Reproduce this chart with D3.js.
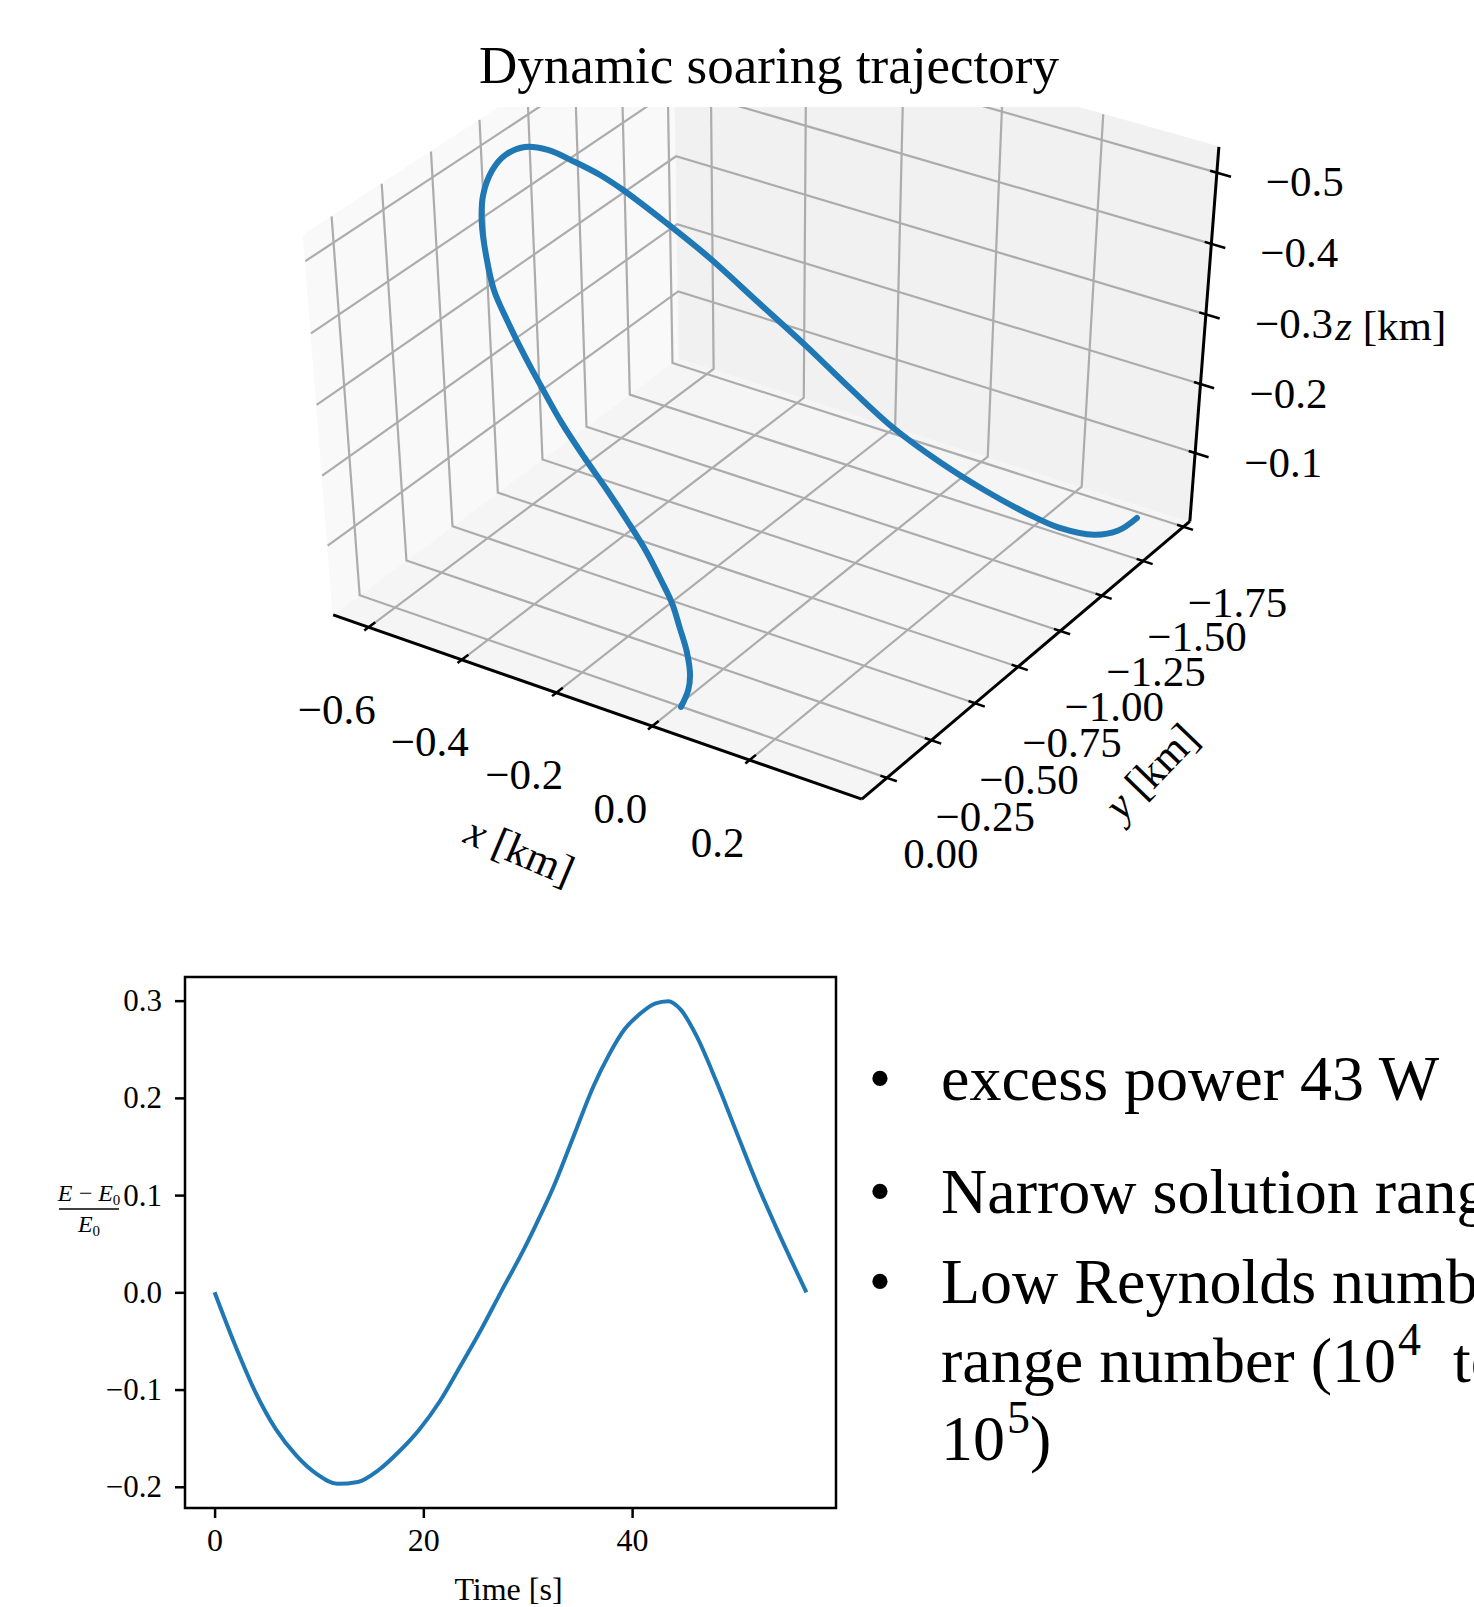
<!DOCTYPE html>
<html>
<head>
<meta charset="utf-8">
<script src="https://cdn.jsdelivr.net/npm/d3@7"></script>
<style>
  body { margin: 0; background: #fff; }
  svg text { font-family: "Liberation Serif", "Times New Roman", serif; fill: #000; }
</style>
</head>
<body>
<svg id="fig" width="1474" height="1607"></svg>
<script>
// trajectory in km (x, y, z with z pointing down)
let trajX = [0.007, 0.001, -0.009, -0.030, -0.058, -0.086, -0.119, -0.152, -0.197, -0.244, -0.294, -0.344, -0.390, -0.435, -0.481, -0.521, -0.557, -0.589, -0.611, -0.623, -0.623, -0.611, -0.586, -0.549, -0.513, -0.478, -0.409, -0.335, -0.247, -0.158, -0.079, -0.002, 0.079, 0.150, 0.221, 0.264, 0.308, 0.332, 0.341];
let trajY = [0.002, -0.054, -0.091, -0.131, -0.166, -0.199, -0.221, -0.240, -0.256, -0.269, -0.280, -0.295, -0.317, -0.342, -0.374, -0.407, -0.462, -0.525, -0.591, -0.672, -0.741, -0.814, -0.870, -0.917, -0.956, -0.985, -1.029, -1.072, -1.108, -1.144, -1.174, -1.206, -1.265, -1.329, -1.407, -1.466, -1.551, -1.629, -1.717];
let trajZ = [0.000, -0.011, -0.022, -0.041, -0.063, -0.085, -0.109, -0.133, -0.164, -0.196, -0.229, -0.263, -0.296, -0.328, -0.361, -0.391, -0.422, -0.450, -0.472, -0.490, -0.499, -0.500, -0.491, -0.473, -0.455, -0.436, -0.397, -0.354, -0.302, -0.250, -0.202, -0.157, -0.112, -0.075, -0.039, -0.018, -0.001, 0.003, 0.000];

// ticks of the 3d panel
let xTicks3 = [-0.6, -0.4, -0.2, 0.0, 0.2];
let yTicks3 = [0.00, -0.25, -0.50, -0.75, -1.00, -1.25, -1.50, -1.75];
let zTicks3 = [-0.1, -0.2, -0.3, -0.4, -0.5];

// energy history
let timeS  = [0, 1.95, 3.92, 5.88, 7.84, 9.8, 11.77, 13.73, 15.69, 17.65, 19.62, 21.58, 23.54, 25.5, 27.47, 29.43, 30.9, 32.37, 34.34, 36.3, 37.77, 39.24, 40.71, 42.18, 43.46, 44.64, 46.11, 48.07, 50.03, 52.0, 53.96, 56.7];
let energy = [0, -0.054, -0.103, -0.141, -0.168, -0.187, -0.197, -0.195, -0.183, -0.164, -0.141, -0.112, -0.076, -0.039, 0.001, 0.040, 0.072, 0.106, 0.159, 0.212, 0.244, 0.270, 0.286, 0.297, 0.2995, 0.291, 0.265, 0.217, 0.164, 0.111, 0.063, 0];
let timeTicks = [0, 20, 40];
let energyTicks = [-0.2, -0.1, 0.0, 0.1, 0.2, 0.3];

let svg = d3.select("#fig");
svg.append("rect").attr("width", 1474).attr("height", 1607).attr("fill", "#fff");

// ---------- 3d projection ----------
let xS = d3.scaleLinear().domain([-0.677, 0.427]).range([-0.5, 0.5]);
let yS = d3.scaleLinear().domain([0.14, -1.79]).range([-0.5, 0.5]);
let zS = d3.scaleLinear().domain([0, -0.536]).range([-0.345, 0.345]);
let view = {elev: 29.5, azim: -57, dist: 12, k: 628, cx: 766, cy: 381.7, keystone: 0.039};

function project(x, y, z) {
    let U = xS(x), V = yS(y), W = zS(z);
    let ph = view.azim * Math.PI / 180, th = view.elev * Math.PI / 180;
    let X = -Math.sin(ph) * U + Math.cos(ph) * V;
    let Y = -Math.sin(th) * Math.cos(ph) * U - Math.sin(th) * Math.sin(ph) * V + Math.cos(th) * W;
    let dep = Math.cos(th) * Math.cos(ph) * U + Math.cos(th) * Math.sin(ph) * V + Math.sin(th) * W;
    let s = view.dist / (view.dist - dep);
    let zr = zS.range();
    let h = (W - zr[0]) / (zr[1] - zr[0]);
    return [view.cx + view.k * s * X * (1 + view.keystone * h), view.cy - view.k * s * Y];
}

let x0 = xS.domain()[0], x1 = xS.domain()[1];
let y0 = yS.domain()[0], y1 = yS.domain()[1];
let z0 = zS.domain()[0], z1 = zS.domain()[1];

svg.append("clipPath").attr("id", "clip3d")
    .append("rect").attr("x", 0).attr("y", 107).attr("width", 1474).attr("height", 850);

let g3 = svg.append("g").attr("clip-path", "url(#clip3d)");

let panes = [
    {c: "#f5f5f5", p: [[x0,y0,z0],[x1,y0,z0],[x1,y1,z0],[x0,y1,z0]]},
    {c: "#f9f9f9", p: [[x0,y0,z0],[x0,y1,z0],[x0,y1,z1],[x0,y0,z1]]},
    {c: "#f1f1f1", p: [[x0,y1,z0],[x1,y1,z0],[x1,y1,z1],[x0,y1,z1]]}
];
g3.selectAll(".pane").data(panes).enter().append("path")
    .attr("d", d => "M" + d.p.map(q => project(q[0], q[1], q[2]).join(",")).join("L") + "Z")
    .attr("fill", d => d.c).attr("stroke", d => d.c);

//gridlines run over the floor and up the back walls
let grid = [];
xTicks3.forEach(t => grid.push([[t,y0,z0],[t,y1,z0],[t,y1,z1]]));
yTicks3.forEach(t => grid.push([[x1,t,z0],[x0,t,z0],[x0,t,z1]]));
zTicks3.forEach(t => grid.push([[x0,y0,t],[x0,y1,t],[x1,y1,t]]));
g3.selectAll(".grid").data(grid).enter().append("path")
    .attr("d", d => "M" + d.map(q => project(q[0], q[1], q[2]).join(",")).join("L"))
    .attr("fill", "none").attr("stroke", "#acacac").attr("stroke-width", 2.2);

// axis lines
let axes3 = [[[x0,y0,z0],[x1,y0,z0]], [[x1,y0,z0],[x1,y1,z0]], [[x1,y1,z0],[x1,y1,z1]]];
svg.selectAll(".ax3").data(axes3).enter().append("path")
    .attr("d", d => "M" + d.map(q => project(q[0], q[1], q[2]).join(",")).join("L"))
    .attr("fill", "none").attr("stroke", "#000").attr("stroke-width", 3);

// ticks
function seg(a, b) { return "M" + project(a[0], a[1], a[2]).join(",") + "L" + project(b[0], b[1], b[2]).join(","); }
let dx = x1 - x0, dy = y1 - y0;
let tickSegs = [];
xTicks3.forEach(t => tickSegs.push(seg([t, y0 - 0.012 * dy, z0], [t, y0 + 0.018 * dy, z0])));
yTicks3.forEach(t => tickSegs.push(seg([x1 - 0.012 * dx, t, z0], [x1 + 0.018 * dx, t, z0])));
zTicks3.forEach(t => tickSegs.push(seg([x1 - 0.012 * dx, y1, t], [x1 + 0.025 * dx, y1, t])));
svg.selectAll(".tk3").data(tickSegs).enter().append("path")
    .attr("d", d => d).attr("stroke", "#000").attr("stroke-width", 2.5);

let fmt1 = d3.format(".1f"), fmt2 = d3.format(".2f");
svg.selectAll(".xl3").data(xTicks3).enter().append("text")
    .attr("x", d => project(d, y0, z0)[0] - 32).attr("y", d => project(d, y0, z0)[1] + 82)
    .attr("text-anchor", "middle").attr("dominant-baseline", "central")
    .attr("font-size", 43).text(d => fmt1(d));
svg.selectAll(".yl3").data(yTicks3).enter().append("text")
    .attr("x", d => project(x1, d, z0)[0] + 54).attr("y", d => project(x1, d, z0)[1] + 76)
    .attr("text-anchor", "middle").attr("dominant-baseline", "central")
    .attr("font-size", 43).text(d => fmt2(d));
svg.selectAll(".zl3").data(zTicks3).enter().append("text")
    .attr("x", d => project(x1, y1, d)[0] + 88).attr("y", d => project(x1, y1, d)[1] + 9)
    .attr("text-anchor", "middle").attr("dominant-baseline", "central")
    .attr("font-size", 43).text(d => fmt1(d));

// axis labels
function axisLabel(name, pos, rot, anchor) {
    let t = svg.append("text")
        .attr("transform", "translate(" + pos[0] + "," + pos[1] + ") rotate(" + rot + ")")
        .attr("text-anchor", anchor).attr("dominant-baseline", "central").attr("font-size", 43);
    t.append("tspan").attr("font-style", "italic").text(name);
    t.append("tspan").text(" [km]");
}
let xm = project((x0 + x1) / 2, y0, z0), ym = project(x1, (y0 + y1) / 2, z0), zm = project(x1, y1, (z0 + z1) / 2);
axisLabel("x", [xm[0] - 72, xm[1] + 145], 23, "middle");
axisLabel("y", [ym[0] + 120, ym[1] + 115], -46, "middle");
axisLabel("z", [zm[0] + 131, zm[1] - 12], 0, "start");

// trajectory
let traj = trajX.map((x, i) => project(x, trajY[i], trajZ[i]));
svg.append("path").datum(traj)
    .attr("d", d3.line().curve(d3.curveCatmullRom.alpha(0.5)))
    .attr("fill", "none").attr("stroke", "#1f77b4").attr("stroke-width", 6)
    .attr("stroke-linecap", "round");

svg.append("text").attr("x", 769).attr("y", 83).attr("text-anchor", "middle")
    .attr("font-size", 53).text("Dynamic soaring trajectory");

// ---------- energy panel ----------
let box = {left: 185, right: 836, top: 977, bottom: 1508};
function padded(ext) { let m = 0.05 * (ext[1] - ext[0]); return [ext[0] - m, ext[1] + m]; }
let xT = d3.scaleLinear().domain(padded(d3.extent(timeS))).range([box.left, box.right]);
let yE = d3.scaleLinear().domain(padded(d3.extent(energy))).range([box.bottom, box.top]);

let gE = svg.append("g");
gE.append("g").attr("transform", "translate(0," + box.bottom + ")")
    .call(d3.axisBottom(xT).tickValues(timeTicks).tickSize(10).tickPadding(10).tickFormat(d3.format("d")))
    .call(g => g.select(".domain").remove())
    .call(g => g.selectAll("line").attr("stroke-width", 2.5))
    .call(g => g.selectAll("text").attr("font-size", 32).attr("font-family", "Liberation Serif").attr("fill", "#000"));
gE.append("g").attr("transform", "translate(" + box.left + ",0)")
    .call(d3.axisLeft(yE).tickValues(energyTicks).tickSize(10).tickPadding(13).tickFormat(d3.format(".1f")))
    .call(g => g.select(".domain").remove())
    .call(g => g.selectAll("line").attr("stroke-width", 2.5))
    .call(g => g.selectAll("text").attr("font-size", 31).attr("font-family", "Liberation Serif").attr("fill", "#000"));

gE.append("path").datum(timeS.map((t, i) => [xT(t), yE(energy[i])]))
    .attr("d", d3.line().curve(d3.curveMonotoneX))
    .attr("fill", "none").attr("stroke", "#1f77b4").attr("stroke-width", 4);
gE.append("rect").attr("x", box.left).attr("y", box.top)
    .attr("width", box.right - box.left).attr("height", box.bottom - box.top)
    .attr("fill", "none").attr("stroke", "#000").attr("stroke-width", 2.5);

gE.append("text").attr("x", (box.left + box.right) / 2 - 2).attr("y", 1600)
    .attr("text-anchor", "middle").attr("font-size", 32).text("Time [s]");

// fraction label
let num = gE.append("text").attr("x", 89).attr("y", 1201).attr("text-anchor", "middle")
    .attr("font-size", 24).attr("font-style", "italic");
num.append("tspan").text("E\u2009\u2212\u2009E");
num.append("tspan").attr("font-size", 15).attr("dy", 4).attr("font-style", "normal").text("0");
gE.append("line").attr("x1", 59).attr("x2", 119).attr("y1", 1209).attr("y2", 1209)
    .attr("stroke", "#000").attr("stroke-width", 1.5);
let den = gE.append("text").attr("x", 89).attr("y", 1232).attr("text-anchor", "middle")
    .attr("font-size", 24).attr("font-style", "italic");
den.append("tspan").text("E");
den.append("tspan").attr("font-size", 15).attr("dy", 4).attr("font-style", "normal").text("0");

// ---------- bullet text ----------
let bulletLines = [
    {bullet: true,  y: 1100, parts: [["excess power 43 W"]]},
    {bullet: true,  y: 1213, parts: [["Narrow solution range"]]},
    {bullet: true,  y: 1303, parts: [["Low Reynolds number"]]},
    {bullet: false, y: 1382, parts: [["range number (10"], ["4", "sup"], ["\u2002to"]]},
    {bullet: false, y: 1460, parts: [["10"], ["5", "sup"], [")"]]}
];
bulletLines.forEach(l => {
    if (l.bullet) svg.append("text").attr("x", 880).attr("y", l.y).attr("text-anchor", "middle")
        .attr("font-size", 64).text("\u2022");
    let t = svg.append("text").attr("x", 941).attr("y", l.y).attr("font-size", 64);
    let up = 0;
    l.parts.forEach(p => {
        let s = t.append("tspan").text(p[0]);
        if (p[1] === "sup") { s.attr("font-size", 46).attr("dx", 2).attr("dy", -27); up = 27; }
        else if (up) { s.attr("dy", up); up = 0; }
    });
});
</script>
</body>
</html>
